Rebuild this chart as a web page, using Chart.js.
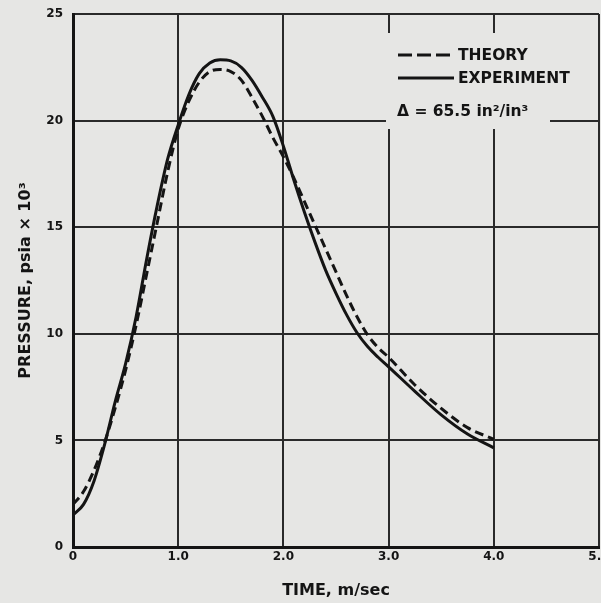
<!DOCTYPE html>
<html>
<head>
<meta charset="utf-8">
<script src="https://cdn.jsdelivr.net/npm/chart.js@4"></script>
<style>
html,body{margin:0;padding:0;background:#e6e6e4;}
#wrap{width:601px;height:603px;}
canvas{display:block;}
</style>
</head>
<body>
<div id="wrap"><canvas id="c" width="601" height="603"></canvas></div>
<script>
// ---- data ----
const timeValues = [0,0.1,0.2,0.3,0.4,0.5,0.6,0.7,0.8,0.9,1.0,1.1,1.2,1.3,1.4,1.5,1.6,1.7,1.8,1.9,2.0,2.1,2.2,2.3,2.4,2.5,2.6,2.7,2.8,2.9,3.0,3.25,3.5,3.75,4.0];
const experimentValues = [1.5,2.0,3.1,4.8,6.8,8.6,10.8,13.5,16.0,18.2,19.8,21.2,22.2,22.7,22.85,22.8,22.5,21.9,21.1,20.2,18.8,17.2,15.7,14.3,13.0,11.9,10.9,10.05,9.4,8.9,8.45,7.3,6.2,5.3,4.65];
const theoryValues = [2.0,2.6,3.6,4.9,6.5,8.3,10.4,12.8,15.2,17.6,19.6,20.9,21.8,22.3,22.4,22.3,21.9,21.1,20.2,19.2,18.3,17.3,16.2,15.1,14.0,12.9,11.8,10.8,9.95,9.35,8.9,7.6,6.5,5.6,5.05];
const xTickLabels = ["0","1.0","2.0","3.0","4.0","5.0"];
const yTickLabels = ["0","5","10","15","20","25"];
const seriesNames = ["THEORY","EXPERIMENT"];
const xTitle = "TIME, m/sec";
const yTitle = "PRESSURE, psia \u00d7 10\u00b3";
const annotationText = "\u0394 = 65.5 in\u00b2/in\u00b3";

const INK = '#141414';
const BG = '#e6e6e4';
const FONT = '"DejaVu Sans", "Liberation Sans", sans-serif';

function pts(ys){ return timeValues.map((t,i)=>({x:t,y:ys[i]})); }

const bgPlugin = {
  id:'bg',
  beforeDraw(chart){
    const ctx = chart.ctx;
    ctx.save(); ctx.fillStyle = BG; ctx.fillRect(0,0,chart.width,chart.height); ctx.restore();
  }
};

const legendPlugin = {
  id:'insideLegend',
  beforeDatasetsDraw(chart){
    const ctx = chart.ctx;
    ctx.save();
    ctx.fillStyle = BG;
    ctx.fillRect(386, 33, 164, 96);
    ctx.strokeStyle = INK;
    ctx.lineWidth = 3;
    ctx.setLineDash([14,5]);
    ctx.beginPath(); ctx.moveTo(398,55); ctx.lineTo(452,55); ctx.stroke();
    ctx.setLineDash([]);
    ctx.beginPath(); ctx.moveTo(398,78); ctx.lineTo(454,78); ctx.stroke();
    ctx.fillStyle = INK;
    ctx.font = 'bold 15.5px ' + FONT;
    ctx.textBaseline = 'middle';
    ctx.textAlign = 'left';
    ctx.fillText(seriesNames[0], 458, 56);
    ctx.fillText(seriesNames[1], 458, 79);
    ctx.fillText(annotationText, 397, 112);
    ctx.restore();
  }
};

const tickFont = {family: FONT, size: 12, weight: 'bold'};
const titleFont = {family: FONT, size: 16, weight: 'bold'};

new Chart(document.getElementById('c'), {
  type: 'line',
  data: {
    datasets: [
      {label: seriesNames[0], data: pts(theoryValues), borderColor: INK, borderWidth: 3,
       borderDash: [9,5], pointRadius: 0, fill: false, cubicInterpolationMode: 'monotone'},
      {label: seriesNames[1], data: pts(experimentValues), borderColor: INK, borderWidth: 3,
       pointRadius: 0, fill: false, cubicInterpolationMode: 'monotone'}
    ]
  },
  options: {
    responsive: false,
    animation: false,
    devicePixelRatio: 1,
    layout: {padding: {left: 0, right: 2, top: 14, bottom: 0}, autoPadding: false},
    plugins: {legend: {display: false}, tooltip: {enabled: false}},
    scales: {
      x: {
        type: 'linear', min: 0, max: 5,
        ticks: {stepSize: 1, autoSkip: false, maxRotation: 0, padding: 3, color: INK, font: tickFont,
                callback: (v, i) => xTickLabels[i]},
        grid: {color: '#2a2a2a', lineWidth: 2, drawTicks: false},
        border: {color: INK, width: 3},
        title: {display: true, text: xTitle, color: INK, font: titleFont, padding: {top: 0, bottom: 3}},
        afterFit(s){ s.height = 56; s.paddingLeft = 0; s.paddingRight = 0; }
      },
      y: {
        type: 'linear', min: 0, max: 25,
        ticks: {stepSize: 5, autoSkip: false, padding: 10, color: INK, font: tickFont,
                callback: (v, i) => yTickLabels[i]},
        grid: {color: '#2a2a2a', lineWidth: 2, drawTicks: false},
        border: {color: INK, width: 3},
        title: {display: true, text: yTitle, color: INK, font: titleFont, padding: {top: 16, bottom: 0}},
        afterFit(s){ s.width = 73; s.paddingTop = 0; s.paddingBottom = 0; }
      }
    }
  },
  plugins: [bgPlugin, legendPlugin]
});
</script>
</body>
</html>
